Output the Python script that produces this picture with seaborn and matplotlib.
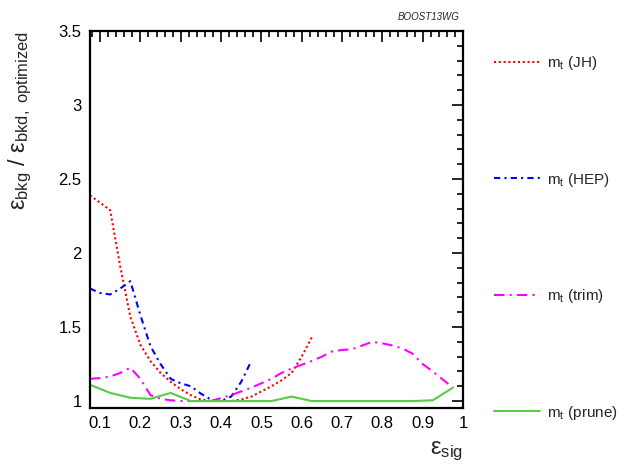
import numpy as np
import pandas as pd
import matplotlib
matplotlib.use("Agg")
import matplotlib.pyplot as plt
from matplotlib.ticker import MultipleLocator
import seaborn as sns

# ---- data ----
jh_x = [0.075, 0.1, 0.125, 0.15, 0.175, 0.2, 0.225, 0.25, 0.275, 0.3, 0.325, 0.35,
        0.375, 0.4, 0.425, 0.45, 0.475, 0.5, 0.525, 0.55, 0.575, 0.6, 0.625]
jh_y = [2.39, 2.34, 2.29, 1.91, 1.57, 1.38, 1.27, 1.19, 1.13, 1.08, 1.04, 1.01,
        1.0, 1.0, 1.0, 1.01, 1.03, 1.065, 1.10, 1.14, 1.19, 1.30, 1.43]

hep_x = [0.075, 0.1, 0.125, 0.15, 0.175, 0.2, 0.225, 0.25, 0.275, 0.3, 0.325, 0.35,
         0.375, 0.4, 0.425, 0.45, 0.475]
hep_y = [1.76, 1.73, 1.72, 1.76, 1.81, 1.58, 1.37, 1.25, 1.15, 1.12, 1.10, 1.05,
         1.01, 1.0, 1.03, 1.13, 1.27]

trim_x = [0.075, 0.1, 0.125, 0.15, 0.175, 0.2, 0.225, 0.25, 0.275, 0.3, 0.325, 0.35,
          0.375, 0.4, 0.425, 0.45, 0.475, 0.5, 0.525, 0.55, 0.575, 0.6, 0.625, 0.65,
          0.675, 0.7, 0.725, 0.75, 0.775, 0.8, 0.825, 0.85, 0.875, 0.9, 0.925, 0.95, 0.975]
trim_y = [1.15, 1.155, 1.165, 1.19, 1.225, 1.15, 1.04, 1.015, 1.005, 1.0, 1.0, 1.0,
          1.0, 1.02, 1.04, 1.065, 1.09, 1.12, 1.15, 1.19, 1.22, 1.245, 1.27, 1.30,
          1.335, 1.345, 1.35, 1.375, 1.40, 1.39, 1.375, 1.355, 1.32, 1.25, 1.20, 1.145, 1.09]

prune_x = [0.075, 0.125, 0.175, 0.225, 0.275, 0.325, 0.375, 0.425, 0.475, 0.525,
           0.575, 0.625, 0.675, 0.725, 0.775, 0.825, 0.875, 0.925, 0.975]
prune_y = [1.11, 1.055, 1.022, 1.015, 1.055, 1.0, 1.0, 1.0, 1.0, 1.0,
           1.03, 1.0, 1.0, 1.0, 1.0, 1.0, 1.0, 1.005, 1.09]

labels = [r"m$_{\rm t}$ (JH)", r"m$_{\rm t}$ (HEP)", r"m$_{\rm t}$ (trim)", r"m$_{\rm t}$ (prune)"]
x_ticks = [0.1, 0.2, 0.3, 0.4, 0.5, 0.6, 0.7, 0.8, 0.9, 1.0]
x_ticklabels = ["0.1", "0.2", "0.3", "0.4", "0.5", "0.6", "0.7", "0.8", "0.9", "1"]
y_ticks = [1.0, 1.5, 2.0, 2.5, 3.0, 3.5]
y_ticklabels = ["1", "1.5", "2", "2.5", "3", "3.5"]

sns.set_theme(style="white")
plt.rcParams["font.family"] = ["Liberation Sans", "DejaVu Sans"]
plt.rcParams["mathtext.fontset"] = "custom"
plt.rcParams["mathtext.rm"] = "Liberation Sans"
plt.rcParams["mathtext.it"] = "Liberation Sans:italic"
plt.rcParams["mathtext.bf"] = "Liberation Sans:bold"

fig = plt.figure(figsize=(6.25, 4.68), dpi=100)
ax = fig.add_axes([90 / 625, 1 - 408 / 468, 373 / 625, 377 / 468])

series = [
    (jh_x, jh_y, "#ff0000", (0, (1, 1.3))),
    (hep_x, hep_y, "#0000ff", (0, (3, 2, 1, 2))),
    (trim_x, trim_y, "#ff00ff", (0, (5, 2.5, 1, 2.5))),
    (prune_x, prune_y, "#55cc44", "-"),
]
handles = []
for (xs, ys, col, ls), lab in zip(series, labels):
    df = pd.DataFrame({"x": xs, "y": ys})
    sns.lineplot(data=df, x="x", y="y", ax=ax, color=col, linewidth=1.5,
                 linestyle=ls, label=lab, legend=False)
    handles.append(ax.lines[-1])

ax.set_xlim(0.075, 1.0)
ax.set_ylim(0.953, 3.5)
ax.set_xticks(x_ticks)
ax.set_xticklabels(x_ticklabels)
ax.set_yticks(y_ticks)
ax.set_yticklabels(y_ticklabels)
ax.xaxis.set_minor_locator(MultipleLocator(0.02))
ax.yaxis.set_minor_locator(MultipleLocator(0.1))
ax.tick_params(which="both", direction="in", top=True, right=True, colors="black",
               labelsize=12, width=1.2)
ax.tick_params(which="major", length=8)
ax.tick_params(which="minor", length=4)
ax.tick_params(axis="x", pad=6)
ax.tick_params(axis="y", pad=6)
for s in ax.spines.values():
    s.set_visible(True)
    s.set_color("black")
    s.set_linewidth(1.6)

ax.set_xlabel(r"$\mathrm{\varepsilon}_{\rm sig}$", fontsize=17, loc="right", labelpad=6)
ax.set_ylabel(r"$\mathrm{\varepsilon}_{\rm bkg}$ / $\mathrm{\varepsilon}_{\rm bkd,\ optimized}$",
              fontsize=17, loc="top")
ax.yaxis.set_label_coords(-0.15, 1.0)

fig.text(460 / 625, 1 - 17 / 468, "BOOST13WG", ha="right", va="center",
         fontsize=7, style="italic")

fig.legend(handles=handles, labels=labels, loc="upper left",
           bbox_to_anchor=(494 / 625, 1 - 54 / 468), frameon=False,
           fontsize=11, handlelength=3.0, handletextpad=0.5,
           labelspacing=6.45, borderpad=0, borderaxespad=0)

fig.savefig("out.png", dpi=100)
